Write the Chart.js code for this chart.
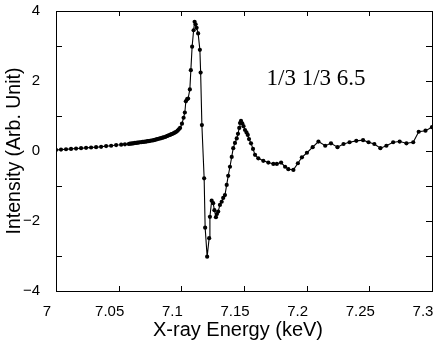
<!DOCTYPE html>
<html>
<head>
  <meta charset="utf-8" />
  <script src="https://cdn.jsdelivr.net/npm/chart.js@4.4.0/dist/chart.umd.min.js"></script>
  <style>
    body { margin: 0; background: #fff; }
    #wrap { width: 447px; height: 351px; position: relative; }
  </style>
</head>
<body>
<div id="wrap"><canvas id="xanes"></canvas></div>

<script>
/* ---------- Data ---------- */
const energy = [
  7.000, 7.004, 7.008, 7.012, 7.016, 7.020, 7.024, 7.028, 7.032, 7.036,
  7.040, 7.044, 7.048, 7.052, 7.055,
  7.058, 7.059, 7.060, 7.061, 7.062, 7.063, 7.064, 7.065, 7.066, 7.067,
  7.068, 7.069, 7.070, 7.071, 7.072, 7.073, 7.074, 7.075, 7.076, 7.077,
  7.078, 7.079, 7.080, 7.081, 7.082, 7.083, 7.084, 7.085, 7.086, 7.087,
  7.088, 7.089, 7.090, 7.091, 7.092, 7.093, 7.094, 7.095, 7.096, 7.097,
  7.098, 7.099, 7.1005, 7.1018, 7.1028, 7.1036, 7.1046, 7.1054, 7.1068, 7.1076,
  7.1086, 7.1098, 7.1106, 7.1114, 7.1122, 7.1134, 7.1148, 7.1154, 7.1164, 7.1182,
  7.1190, 7.1206, 7.1222, 7.1228, 7.1242, 7.1254, 7.1264, 7.1276, 7.1284, 7.1294,
  7.1308, 7.1322, 7.1334, 7.1348, 7.1362, 7.1374, 7.1388, 7.1402, 7.1414, 7.1428,
  7.1442, 7.1452, 7.1462, 7.1468, 7.1476, 7.1486, 7.1496, 7.1508, 7.1520, 7.1530,
  7.1540, 7.1556, 7.1572, 7.1588, 7.1614, 7.1654, 7.1694, 7.1734, 7.1762, 7.1796,
  7.1828, 7.1854, 7.1894, 7.1930, 7.1962, 7.2002, 7.2048, 7.2094, 7.2148, 7.2194,
  7.2246, 7.2294, 7.2342, 7.2396, 7.2450, 7.2494, 7.2540, 7.2588, 7.2636, 7.2690,
  7.2742, 7.2796, 7.2850, 7.2894, 7.2948, 7.3000
];
const intensity = [
  0.03, 0.04, 0.05, 0.06, 0.07, 0.08, 0.09, 0.10, 0.11, 0.12,
  0.14, 0.15, 0.17, 0.18, 0.19,
  0.20, 0.21, 0.21, 0.22, 0.22, 0.23, 0.23, 0.24, 0.24, 0.25,
  0.25, 0.26, 0.26, 0.27, 0.27, 0.28, 0.28, 0.29, 0.30, 0.30,
  0.31, 0.32, 0.33, 0.34, 0.35, 0.36, 0.37, 0.38, 0.39, 0.40,
  0.42, 0.43, 0.45, 0.46, 0.48, 0.49, 0.51, 0.53, 0.55, 0.58,
  0.62, 0.66, 0.78, 0.95, 1.10, 1.42, 1.48, 1.50, 1.76, 2.31,
  2.98, 3.45, 3.69, 3.62, 3.52, 3.36, 2.89, 2.24, 0.74, -0.78,
  -2.19, -3.02, -2.49, -1.88, -1.42, -1.49, -1.69, -1.89, -1.80, -1.73,
  -1.54, -1.45, -1.34, -1.26, -0.97, -0.71, -0.45, -0.17, 0.08, 0.23,
  0.36, 0.49, 0.66, 0.80, 0.86, 0.79, 0.71, 0.60, 0.53, 0.46,
  0.34, 0.22, 0.06, -0.11, -0.21, -0.28, -0.33, -0.37, -0.37, -0.33,
  -0.45, -0.52, -0.54, -0.35, -0.18, -0.05, 0.11, 0.27, 0.15, 0.22,
  0.11, 0.20, 0.25, 0.29, 0.31, 0.25, 0.20, 0.08, 0.15, 0.25,
  0.27, 0.22, 0.25, 0.55, 0.58, 0.68
];

const xTicksMajor = [7, 7.05, 7.1, 7.15, 7.2, 7.25, 7.3];
const yLeftTicks = [-3, -1, 1, 3];
const yRightTicks = [-3, -2, -1, 0, 1, 2, 3];
const noteText = '1/3 1/3 6.5';
const noteAt = { x: 7.1680, y: 1.88 };
const xTitle = 'X-ray Energy (keV)';

/* ---------- Frame + inward ticks + note ---------- */
const framePlugin = {
  id: 'frame',
  afterDatasetsDraw(chart) {
    const { ctx, chartArea: a, scales: { x, y } } = chart;
    ctx.save();
    ctx.strokeStyle = '#000';
    ctx.lineWidth = 1;
    ctx.strokeRect(Math.round(a.left) + 0.5, Math.round(a.top) + 0.5,
                   Math.round(a.right - a.left), Math.round(a.bottom - a.top));
    ctx.beginPath();
    xTicksMajor.slice(1, -1).forEach(v => {
      const px = Math.round(x.getPixelForValue(v)) + 0.5;
      ctx.moveTo(px, a.bottom); ctx.lineTo(px, a.bottom - 5);
      ctx.moveTo(px, a.top); ctx.lineTo(px, a.top + 5);
    });
    yLeftTicks.forEach(v => {
      const py = Math.round(y.getPixelForValue(v)) + 0.5;
      ctx.moveTo(a.left, py); ctx.lineTo(a.left + 6, py);
    });
    yRightTicks.forEach(v => {
      const py = Math.round(y.getPixelForValue(v)) + 0.5;
      ctx.moveTo(a.right, py); ctx.lineTo(a.right - 6, py);
    });
    ctx.stroke();

    ctx.fillStyle = '#000';
    ctx.font = '23px "Liberation Serif", "Times New Roman", serif';
    ctx.textBaseline = 'alphabetic';
    ctx.textAlign = 'left';
    ctx.fillText(noteText, x.getPixelForValue(noteAt.x), y.getPixelForValue(noteAt.y));

    // x-axis title, sitting a little left of centre as in the original
    ctx.font = '20px "Liberation Sans", Arial, sans-serif';
    ctx.textAlign = 'center';
    ctx.textBaseline = 'middle';
    ctx.fillText(xTitle, (a.left + a.right) / 2 - 6, a.bottom + 39);
    ctx.restore();
  }
};

const fmtX = v => String(Number(v.toFixed(2)));
const fmtY = v => v < 0 ? '\u2212' + Math.abs(v) : String(v);

new Chart(document.getElementById('xanes'), {
  type: 'scatter',
  data: {
    datasets: [{
      data: energy.map((e, i) => ({ x: e, y: intensity[i] })),
      showLine: true,
      borderColor: '#000',
      borderWidth: 1.1,
      backgroundColor: '#000',
      pointRadius: 2.1,
      pointBorderWidth: 0,
      tension: 0
    }]
  },
  options: {
    responsive: true,
    maintainAspectRatio: false,
    animation: false,
    layout: { padding: { left: 0, right: 15, top: 11, bottom: 0 } },
    plugins: { legend: { display: false }, tooltip: { enabled: false } },
    scales: {
      x: {
        type: 'linear', min: 7, max: 7.3,
        afterFit: s => { s.height = 60; s.paddingLeft = 0; s.paddingRight = 0; },
        afterBuildTicks: s => { s.ticks = xTicksMajor.map(v => ({ value: v })); },
        grid: { display: false, drawTicks: false },
        border: { display: false },
        ticks: { color: '#000', padding: 12, maxRotation: 0, autoSkip: false, labelOffset: -9,
                 font: { family: '"Liberation Sans", Arial, sans-serif', size: 15 },
                 callback: fmtX },
        title: { display: false }
      },
      y: {
        min: -4, max: 4,
        afterFit: s => { s.width = 56; s.paddingTop = 0; s.paddingBottom = 0; },
        grid: { display: false, drawTicks: false },
        border: { display: false },
        ticks: { color: '#000', padding: 16, stepSize: 2,
                 font: { family: '"Liberation Sans", Arial, sans-serif', size: 15 },
                 callback: fmtY },
        title: { display: true, text: 'Intensity (Arb. Unit)', color: '#000', padding: 3,
                 font: { family: '"Liberation Sans", Arial, sans-serif', size: 19.5 } }
      }
    }
  },
  plugins: [framePlugin]
});
</script>
</body>
</html>
